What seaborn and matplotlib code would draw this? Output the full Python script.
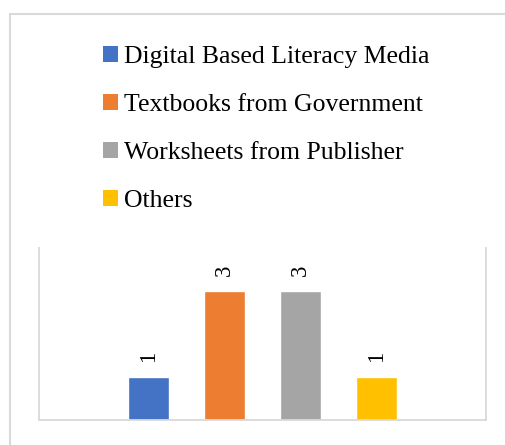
import matplotlib
matplotlib.use("Agg")
import matplotlib.pyplot as plt
import seaborn as sns
import pandas as pd
from matplotlib.patches import Patch, Rectangle

series = ["Digital Based Literacy Media", "Textbooks from Government",
          "Worksheets from Publisher", "Others"]
values = [1, 3, 3, 1]
colors = ["#4472C4", "#ED7D31", "#A5A5A5", "#FFC000"]

sns.set_theme(style="white")
plt.rcParams["font.family"] = ["Liberation Serif", "DejaVu Serif"]

df = pd.DataFrame({"series": series, "value": values})

W, H = 505, 445
fig = plt.figure(figsize=(W / 100, H / 100), dpi=100)
fig.patch.set_facecolor("white")

# outer chart frame (partially cropped)
fig.add_artist(Rectangle((10 / W, -0.1), 1.2, 1.1 - 14 / H,
                         transform=fig.transFigure, fill=False,
                         edgecolor="#d9d9d9", linewidth=1.5))

ax = fig.add_axes([39 / W, 1 - 420 / H, (486 - 39) / W, (420 - 248) / H])
sns.barplot(data=df, x="series", y="value", hue="series", palette=colors,
            order=series, hue_order=series, legend=False, width=41 / 76,
            saturation=1, ax=ax)

span = 447 / 76
ax.set_xlim(1.5 - span / 2, 1.5 + span / 2)
ax.set_ylim(0, 4)
ax.set_xticks([])
ax.set_yticks([])
ax.set_xlabel("")
ax.set_ylabel("")
for s in ["left", "right", "bottom"]:
    ax.spines[s].set_visible(True)
    ax.spines[s].set_color("#d9d9d9")
    ax.spines[s].set_linewidth(1.3)
ax.spines["top"].set_visible(False)

for c in ax.containers:
    ax.bar_label(c, padding=11, rotation=90, fontsize=16.5, color="black")

fs = 18.5
hl = 15 / (fs * 100 / 72)
handles = [Patch(facecolor=c, edgecolor="none") for c in colors]
fig.legend(handles, series, loc="upper left",
           bbox_to_anchor=(103 / W, 1 - 46 / H), frameon=False,
           fontsize=fs, handlelength=hl, handleheight=hl,
           handletextpad=0.25, labelspacing=1.01, borderpad=0,
           borderaxespad=0, labelcolor="black")

fig.savefig("out.png", dpi=100)
